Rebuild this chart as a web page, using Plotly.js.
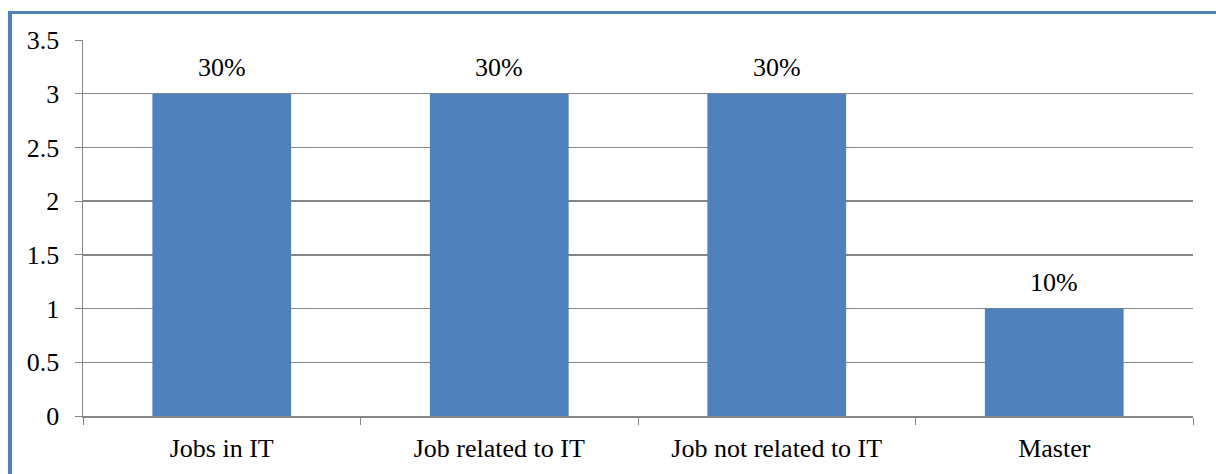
<!DOCTYPE html>
<html>
<head>
<meta charset="utf-8">
<script src="https://cdn.plot.ly/plotly-3.0.1.min.js"></script>
<style>
html,body{margin:0;padding:0;background:#fff;}
#wrap{position:relative;width:1216px;height:474px;overflow:hidden;}
#frame{position:absolute;left:8px;top:11px;width:1300px;height:600px;border-top:3px solid #4F81BD;border-left:4px solid #4F81BD;box-sizing:border-box;pointer-events:none;z-index:5;}
#chart{position:absolute;left:0;top:0;width:1216px;height:474px;}
</style>
</head>
<body>
<div id="wrap">
<div id="chart"></div>
<div id="frame"></div>
</div>
<script>
const categories = ["Jobs in IT", "Job related to IT", "Job not related to IT", "Master"];
const values = [3, 3, 3, 1];
const valueLabels = ["30%", "30%", "30%", "10%"];
const yTicks = [0, 0.5, 1, 1.5, 2, 2.5, 3, 3.5];

const serif = "Liberation Serif";
const fs = 26;

const trace = {
  type: "bar",
  x: categories,
  y: values,
  marker: {color: "#4F81BD"},
  width: 0.5,
  hoverinfo: "none"
};

const annotations = categories.map((c, i) => ({
  x: c, y: values[i], xref: "x", yref: "y",
  text: valueLabels[i], showarrow: false,
  yanchor: "bottom", yshift: 10,
  font: {family: serif, size: fs, color: "#000"}
}));

const layout = {
  width: 1216, height: 474,
  margin: {l: 83, r: 23, t: 40, b: 58},
  paper_bgcolor: "#fff", plot_bgcolor: "#fff",
  showlegend: false,
  bargap: 0.5,
  font: {family: serif, size: fs, color: "#000"},
  xaxis: {
    type: "category",
    showgrid: false,
    showline: true, linecolor: "#868686", linewidth: 2,
    ticks: "outside", tickson: "boundaries", ticklen: 7, tickcolor: "#868686", tickwidth: 1,
    tickfont: {family: serif, size: fs, color: "#000"},
    ticklabelstandoff: 8,
    zeroline: false
  },
  yaxis: {
    range: [0, 3.5],
    tickvals: yTicks,
    ticktext: yTicks.map(v => String(v)),
    showgrid: true, gridcolor: "#868686", gridwidth: 1.5,
    showline: true, linecolor: "#868686", linewidth: 1.5,
    ticks: "outside", ticklen: 7, tickcolor: "#868686",
    tickfont: {family: serif, size: fs, color: "#000"},
    ticklabelstandoff: 10,
    zeroline: false
  },
  annotations: annotations
};

Plotly.newPlot("chart", [trace], layout, {displayModeBar: false, staticPlot: true});
</script>
</body>
</html>
